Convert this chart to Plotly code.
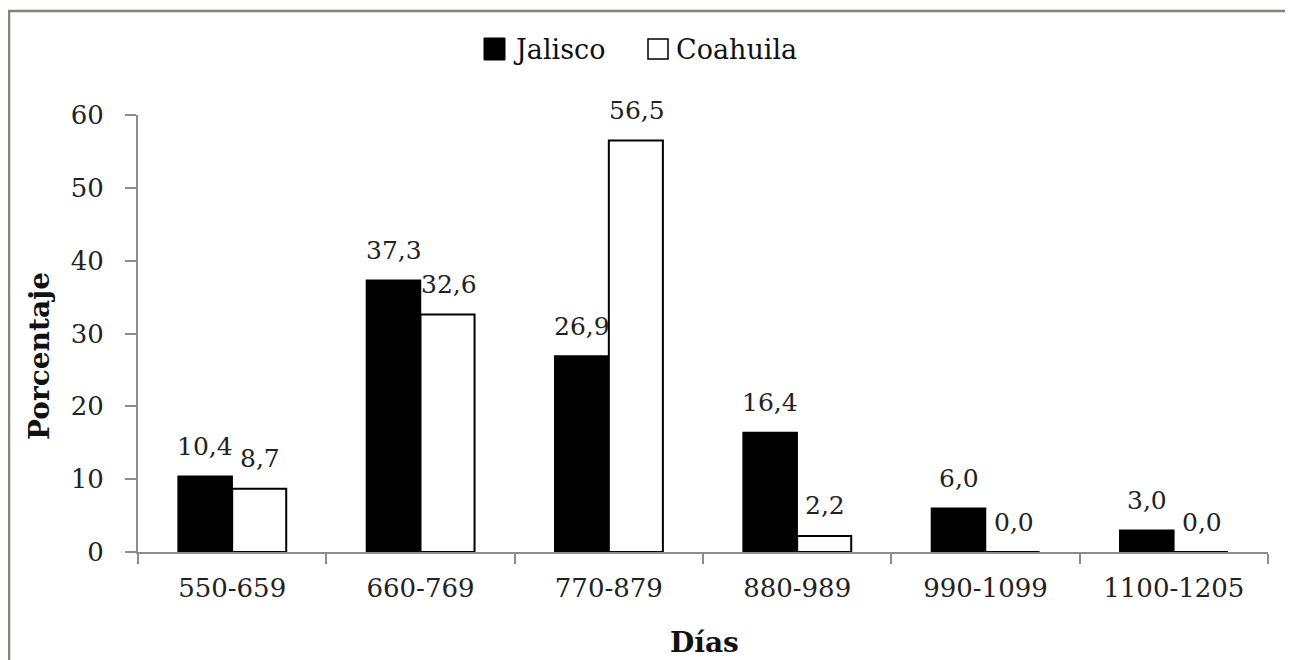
import plotly.graph_objects as go

categories = ["550-659", "660-769", "770-879", "880-989", "990-1099", "1100-1205"]
jalisco = [10.4, 37.3, 26.9, 16.4, 6.0, 3.0]
coahuila = [8.7, 32.6, 56.5, 2.2, 0.0, 0.0]
series_names = ["Jalisco", "Coahuila"]
y_ticks = [0, 10, 20, 30, 40, 50, 60]

W, H = 1293, 660
OFF = 8  # page body margin
SL, SR, ST, SB = 138, 1268, 115, 552  # plot area in screen pixels
L, R, T, B = SL - OFF, SR - OFF, ST - OFF, SB - OFF


def px(x):
    return (x - SL) / (SR - SL)


def py(y):
    return (SB - y) / (SB - ST)


def fmt(v):
    return f"{v:.1f}".replace(".", ",")


SERIF = "DejaVu Serif"

fig = go.Figure()
fig.add_trace(go.Bar(name=series_names[0], x=categories, y=jalisco,
                     marker=dict(color="black", line=dict(color="black", width=1.5)),
                     showlegend=False))
fig.add_trace(go.Bar(name=series_names[1], x=categories, y=coahuila,
                     marker=dict(color="white", line=dict(color="black", width=2)),
                     showlegend=False))

annotations = []
for c, v in zip(categories, jalisco):
    annotations.append(dict(x=c, y=v, xref="x", yref="y", text=fmt(v), showarrow=False,
                            xshift=-27, yshift=30, yanchor="middle",
                            font=dict(family=SERIF, size=25, color="#222")))
for c, v in zip(categories, coahuila):
    annotations.append(dict(x=c, y=v, xref="x", yref="y", text=fmt(v), showarrow=False,
                            xshift=28, yshift=30, yanchor="middle",
                            font=dict(family=SERIF, size=25, color="#222")))

# axis titles
annotations.append(dict(x=px(39), y=py(356), xref="paper", yref="paper", text="<b>Porcentaje</b>",
                        textangle=-90, showarrow=False, xanchor="center", yanchor="middle",
                        font=dict(family=SERIF, size=28, color="#111")))
annotations.append(dict(x=px(704), y=py(642), xref="paper", yref="paper", text="<b>Días</b>",
                        showarrow=False, xanchor="center", yanchor="middle",
                        font=dict(family=SERIF, size=28, color="#111")))

# legend (manual, large squares)
annotations.append(dict(x=px(511), y=py(49), xref="paper", yref="paper", text=series_names[0],
                        showarrow=False, xanchor="left", yanchor="middle",
                        font=dict(family=SERIF, size=27, color="#111")))
annotations.append(dict(x=px(674), y=py(49), xref="paper", yref="paper", text=series_names[1],
                        showarrow=False, xanchor="left", yanchor="middle",
                        font=dict(family=SERIF, size=27, color="#111")))

shapes = [
    dict(type="rect", xref="paper", yref="paper", x0=px(9), x1=px(1291), y0=py(690), y1=py(11),
         line=dict(color="#858276", width=2.5), fillcolor="rgba(0,0,0,0)", layer="below"),
    dict(type="rect", xref="paper", yref="paper", x0=px(484), x1=px(505), y0=py(60), y1=py(38),
         line=dict(color="black", width=1), fillcolor="black"),
    dict(type="rect", xref="paper", yref="paper", x0=px(648), x1=px(668), y0=py(59), y1=py(39),
         line=dict(color="black", width=1.5), fillcolor="white"),
]

fig.update_layout(
    width=W, height=H,
    margin=dict(l=L, r=W - R, t=T, b=H - B),
    paper_bgcolor="white", plot_bgcolor="white",
    barmode="group", bargap=0.426, bargroupgap=0,
    annotations=annotations, shapes=shapes,
    font=dict(family=SERIF, color="#222"),
)
fig.update_xaxes(showline=True, linecolor="#8c8c8c", linewidth=2, showgrid=False,
                 ticks="outside", tickson="boundaries", ticklen=10, tickwidth=1.5,
                 tickcolor="#8c8c8c", tickfont=dict(family=SERIF, size=26, color="#222"),
                 ticklabelstandoff=12)
fig.update_yaxes(range=[0, 60], tickvals=y_ticks, showline=True, linecolor="#8c8c8c",
                 linewidth=2, showgrid=False, zeroline=False, ticks="outside", ticklen=11,
                 tickwidth=1.5, tickcolor="#8c8c8c",
                 tickfont=dict(family=SERIF, size=26, color="#222"), ticklabelstandoff=16)

fig.write_html("out.html")
